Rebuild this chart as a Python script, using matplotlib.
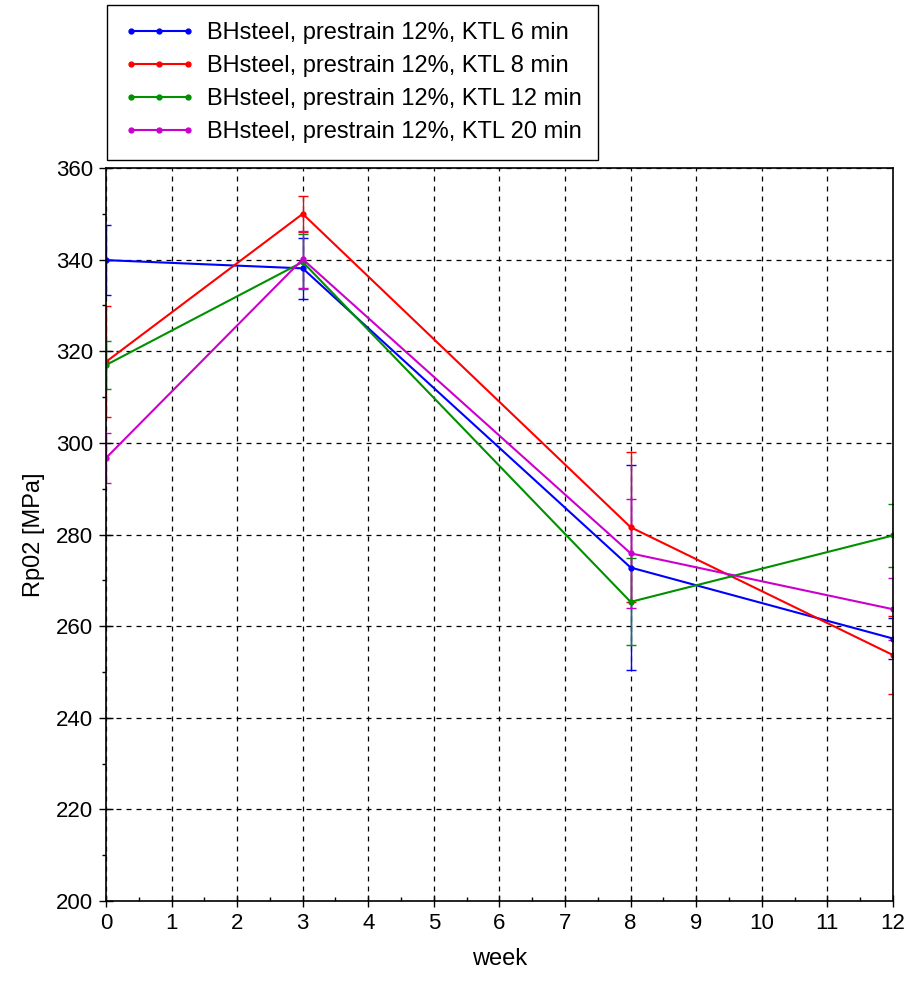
import matplotlib
matplotlib.use('Agg')
import matplotlib.pyplot as plt

plt.rcParams['font.family'] = ['Liberation Sans', 'DejaVu Sans']

weeks = [0, 3, 8, 12]
labels = ['BHsteel, prestrain 12%, KTL 6 min',
          'BHsteel, prestrain 12%, KTL 8 min',
          'BHsteel, prestrain 12%, KTL 12 min',
          'BHsteel, prestrain 12%, KTL 20 min']
colors = ['#0000ff', '#ff0000', '#009000', '#cc00cc']

rp_6min = [339.9, 338.1, 272.8, 257.3]
rp_8min = [317.7, 350.0, 281.6, 253.7]
rp_12min = [317.0, 339.5, 265.3, 279.8]
rp_20min = [296.7, 340.1, 275.9, 263.7]

err_6min = [7.6, 6.6, 22.3, 4.4]
err_8min = [12.1, 3.9, 16.4, 8.6]
err_12min = [5.3, 6.0, 9.5, 6.8]
err_20min = [5.5, 6.2, 11.9, 6.8]

series = [rp_6min, rp_8min, rp_12min, rp_20min]
errors = [err_6min, err_8min, err_12min, err_20min]

fig = plt.figure(figsize=(9.15, 9.81), dpi=100)
ax = fig.add_axes([0.1158, 0.0815, 0.8601, 0.7472])

handles = []
for vals, err, col, lab in zip(series, errors, colors, labels):
    eb = ax.errorbar(weeks, vals, yerr=err, color=col, lw=1.5, marker='o',
                     markersize=3.5, capsize=3.5, elinewidth=1.0,
                     capthick=1.0, label=lab)
    handles.append(eb.lines[0])

ax.set_xlim(0, 12)
ax.set_ylim(200, 360)
ax.set_xticks(range(0, 13))
ax.set_yticks(range(200, 361, 20))
ax.set_xticks([x + 0.5 for x in range(12)], minor=True)
ax.set_yticks(range(210, 360, 20), minor=True)
ax.tick_params(axis='x', which='major', direction='inout', length=9,
               width=1, labelsize=16, pad=4)
ax.tick_params(axis='x', which='minor', direction='in', length=3, width=1)
ax.tick_params(axis='y', which='major', direction='inout', length=10,
               width=1, labelsize=16, pad=4)
ax.tick_params(axis='y', which='minor', direction='out', length=3, width=1)
ax.grid(True, which='major', color='black', linestyle=(0, (4, 4)),
        linewidth=0.9)
for sp in ax.spines.values():
    sp.set_linewidth(1.2)

ax.set_xlabel('week', fontsize=17, labelpad=10)
ax.set_ylabel('Rp02 [MPa]', fontsize=17, labelpad=8)

leg = fig.legend(handles, labels, loc='upper left',
                 bbox_to_anchor=(0.117, 0.995), fontsize=17,
                 numpoints=3, handlelength=3.0, handletextpad=0.5,
                 borderpad=0.72, borderaxespad=0, labelspacing=0.47,
                 fancybox=False, framealpha=1, edgecolor='black')
leg.get_frame().set_linewidth(1.0)

plt.savefig('out.png', dpi=100)
